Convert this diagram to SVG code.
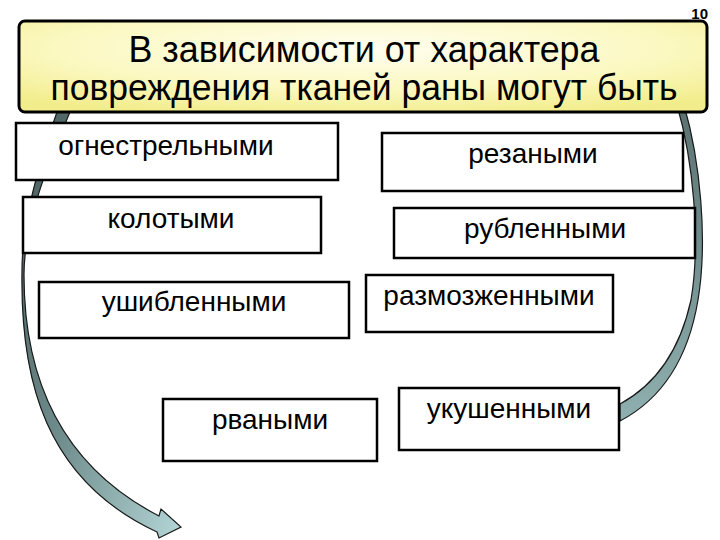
<svg xmlns="http://www.w3.org/2000/svg" width="720" height="540" viewBox="0 0 720 540">
<defs>
<linearGradient id="gl" x1="0" y1="0" x2="1" y2="1">
<stop offset="0" stop-color="#465a5a"/>
<stop offset="0.5" stop-color="#6f8c8c"/>
<stop offset="1" stop-color="#b4d6d6"/>
</linearGradient>
<linearGradient id="gr" x1="0" y1="0" x2="0" y2="1">
<stop offset="0" stop-color="#5a7070"/>
<stop offset="1" stop-color="#8fb0b0"/>
</linearGradient>
<radialGradient id="gt" cx="0.5" cy="0.3" r="0.75">
<stop offset="0" stop-color="#fffef0"/>
<stop offset="0.6" stop-color="#fbf8c0"/>
<stop offset="1" stop-color="#f2ed8c"/>
</radialGradient>
<style>
.box{fill:#fff;stroke:#000;stroke-width:2.5}
.lbl{font-family:"Liberation Sans",Arial,sans-serif;font-size:28px;fill:#000;text-anchor:middle}
.ttl{font-family:"Liberation Sans",Arial,sans-serif;font-size:36px;fill:#000;text-anchor:middle}
.arr{stroke:#1a1a1a;stroke-width:1.2}
</style>
</defs>
<rect width="720" height="540" fill="#fff"/>
<g id="connectors">
<path class="arr" fill="url(#gl)" d="M61,100 L57,112 C40,160 22,220 22,270 C20,380 45,480 157,532 L159,538 L181,527 L161,509 L159,516 C70,470 24,390 24,275 C24,220 50,160 70,112 L74,100 Z"/>
<path class="arr" fill="url(#gr)" d="M680,100 L684,105 C700,160 708,240 698,300 C688,360 660,400 620,421 L620,404 C655,385 680,350 691,300 C701,240 693,160 677,105 L673,100 Z"/>
</g>
<g id="title">
<rect x="19" y="21" width="688" height="91" rx="6" ry="6" fill="url(#gt)" stroke="#000" stroke-width="3"/>
<text class="ttl" x="364" y="62" textLength="471" lengthAdjust="spacingAndGlyphs">В зависимости от характера</text>
<text class="ttl" x="364" y="100" textLength="627" lengthAdjust="spacingAndGlyphs">повреждения тканей раны могут быть</text>
</g>
<g id="page-number">
<text x="708" y="19" font-family="Liberation Sans,Arial,sans-serif" font-size="15" font-weight="bold" text-anchor="end">10</text>
</g>
<g id="n-ognestrel">
<rect class="box" x="16" y="123" width="322" height="57"/>
<text class="lbl" x="166" y="155">огнестрельными</text>
</g>
<g id="n-kolot">
<rect class="box" x="23" y="197" width="298" height="56"/>
<text class="lbl" x="171" y="228">колотыми</text>
</g>
<g id="n-ushib">
<rect class="box" x="39" y="282" width="310" height="56"/>
<text class="lbl" x="194" y="311">ушибленными</text>
</g>
<g id="n-rezan">
<rect class="box" x="382" y="133" width="301" height="58"/>
<text class="lbl" x="533" y="163">резаными</text>
</g>
<g id="n-rublen">
<rect class="box" x="394" y="208" width="301" height="50"/>
<text class="lbl" x="545" y="238">рубленными</text>
</g>
<g id="n-razmozh">
<rect class="box" x="366" y="275" width="247" height="57"/>
<text class="lbl" x="489" y="305">размозженными</text>
</g>
<g id="n-rvan">
<rect class="box" x="163" y="399" width="214" height="62"/>
<text class="lbl" x="270" y="429">рваными</text>
</g>
<g id="n-ukush">
<rect class="box" x="399" y="388" width="220" height="62"/>
<text class="lbl" x="509" y="418">укушенными</text>
</g>
</svg>
